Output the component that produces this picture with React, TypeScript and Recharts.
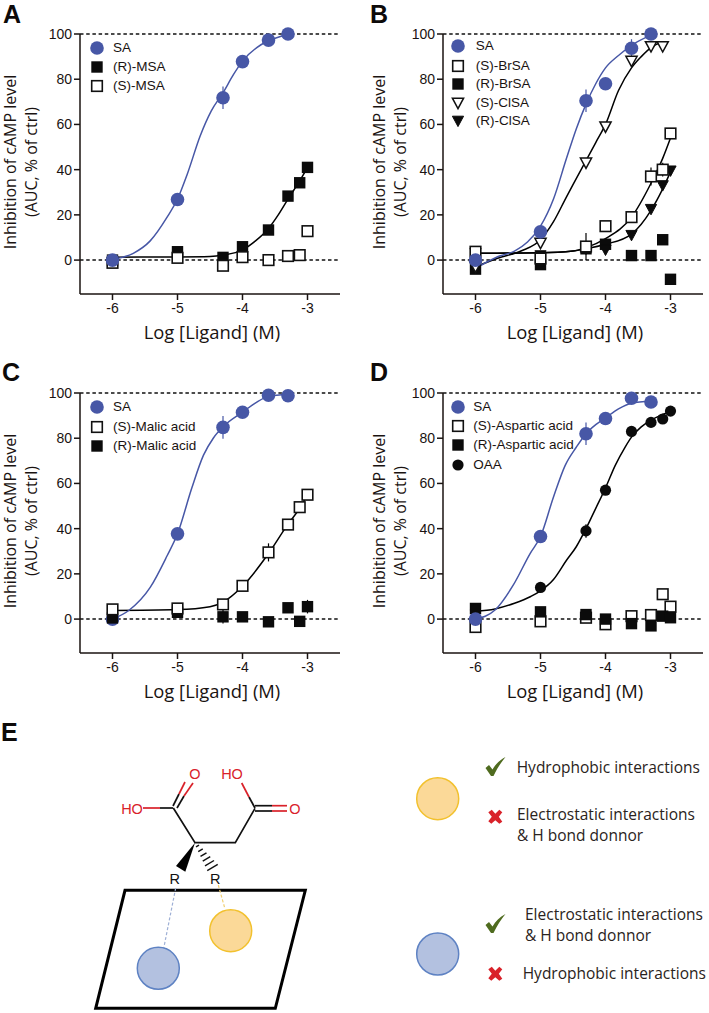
import React from 'react';
import { ComposedChart, Line, Scatter, XAxis, YAxis, ReferenceLine, Legend, ErrorBar, Label } from 'recharts';

// doses shared by every panel, log M
const doses = [-6, -5, -4.3, -4, -3.6, -3.3, -3.12, -3];
const xTicks = [-6, -5, -4, -3];
const yTicks = [0, 20, 40, 60, 80, 100];

// panel A
const aSA = [0, 26.8, 71.8, 87.8, 97.3, 100];
const aSAErr = [0, 0, 5, 0, 0, 0];
const aRMSA = [0, 3.7, 1.2, 5.9, 13.3, 28.3, 34.2, 41];
const aSMSA = [-1.2, 1, -2.5, 1.3, 0, 1.8, 2.2, 12.8];
const aSAFitX = [-6, -5.68, -5.42, -5.16, -5, -4.85, -4.65, -4.48, -4.3, -4.14, -4, -3.78, -3.6, -3.3];
const aSAFitY = [0.3, 3, 8.5, 19, 27, 38, 55, 66, 74, 82, 88, 94, 97, 99.8];
const aRFitX = [-6, -5, -4.5, -4.3, -4, -3.8, -3.6, -3.45, -3.3, -3.12, -3];
const aRFitY = [1.3, 1.4, 1.6, 2.2, 4.5, 8.5, 14, 20, 27, 35, 41];

// panel B
const bSA = [0, 12.5, 70.5, 78, 93.7, 100];
const bSAErr = [0, 0, 5, 0, 4, 0];
const bSBr = [3.7, 0.7, 6, 15, 19, 37, 40, 56];
const bSBrErr = [0, 0, 6, 0, 0, 4, 3, 0];
const bRBr = [-4, -2, 5, 7, 2, 2, 9, -8.5];
const bSCl = [-3, 7.5, 43, 59, 88, 94.5, 94.5];
const bRCl = [3, 2, 5, 4.5, 11, 22.5, 33, 39.5];
const bSAFitX = [-6, -5.66, -5.4, -5.2, -5, -4.8, -4.6, -4.45, -4.3, -4.15, -4, -3.8, -3.6, -3.3];
const bSAFitY = [-3.7, 1.5, 4, 8, 15, 27, 45, 58, 69, 78, 85, 90.5, 95, 99.5];
const bSClFitX = [-6, -5.66, -5.3, -5, -4.8, -4.6, -4.45, -4.3, -4.15, -4, -3.8, -3.6, -3.45, -3.3, -3.12];
const bSClFitY = [-3, 0.8, 4, 9, 17, 28, 36, 44, 52, 60, 75, 85, 90, 94, 96.5];
const bSBrFitX = [-6, -5, -4.5, -4.3, -4, -3.6, -3.3, -3.12, -3];
const bSBrFitY = [3, 3.2, 4, 5.5, 9.5, 19, 34, 45, 54];
const bRClFitX = [-6, -5, -4.5, -4.3, -4, -3.6, -3.3, -3.12, -3];
const bRClFitY = [3, 3.2, 4, 5, 7, 11.5, 22, 31.5, 39];

// panel C
const cSA = [0, 37.7, 84.8, 91.5, 99, 98.8];
const cSAErr = [0, 0, 5, 0, 0, 0];
const cSMalic = [4.3, 4.7, 6.5, 14.7, 29.5, 41.8, 49.5, 55];
const cSMalicErr = [0, 0, 0, 0, 4, 0, 0, 0];
const cRMalic = [0.5, 3, 1, 1, -1.2, 5, -1, 5.5];
const cRMalicErr = [0, 0, 3, 0, 0, 0, 0, 3];
const cSAFitX = [-6, -5.75, -5.42, -5.16, -5, -4.78, -4.6, -4.45, -4.3, -4, -3.78, -3.6, -3.3];
const cSAFitY = [0, 3.8, 14, 28, 37.7, 58, 72.5, 80, 85, 91.5, 96, 98.5, 99.5];
const cSFitX = [-6, -5, -4.5, -4.3, -4, -3.6, -3.3, -3.12, -3];
const cSFitY = [3.8, 4.2, 5.5, 7.5, 14.5, 29, 42, 49, 55];

// panel D
const dSA = [0, 36.5, 82, 88.7, 97.7, 96];
const dSAErr = [0, 0, 5, 0, 0, 0];
const dSAsp = [-3.5, -1, 0.6, -2.3, 1.3, 1.8, 11, 5.5];
const dRAsp = [4.7, 3.2, 2, 0, -2, -3, 1.3, 0.6];
const dOAA = [4, 14, 39, 57, 83, 87, 88.5, 92];
const dOAAErr = [0, 0, 3, 0, 0, 0, 0, 0];
const dSAFitX = [-6, -5.7, -5.42, -5.16, -5, -4.8, -4.62, -4.45, -4.3, -4.15, -4, -3.8, -3.6, -3.3];
const dSAFitY = [0, 4, 15, 29, 36.5, 54, 68, 76, 82, 86, 89, 93, 95.5, 96.5];
const dOAAFitX = [-6, -5.7, -5.4, -5.15, -5, -4.8, -4.6, -4.45, -4.3, -4.15, -4, -3.85, -3.7, -3.6, -3.45, -3.3, -3.12, -3];
const dOAAFitY = [3.5, 4.5, 7, 10, 12.5, 17.5, 26, 32, 40, 49, 58, 68, 76, 80.5, 85, 88, 90.5, 92];

const BLUE = '#4757a6';
const INK = '#1a1311';
const TICK_FONT = '"Liberation Sans", Arial, sans-serif';
const TITLE_FONT = '"Open Sans", sans-serif';

type MarkerKind = 'circle' | 'blueCircle' | 'blackSquare' | 'whiteSquare' | 'whiteTri' | 'blackTri';

function Marker({ kind, cx, cy }: { kind: MarkerKind; cx: number; cy: number }) {
  if (kind === 'blueCircle') return <circle cx={cx} cy={cy} r={6.8} fill={BLUE} />;
  if (kind === 'circle') return <circle cx={cx} cy={cy} r={5.6} fill="#0b0b0b" />;
  if (kind === 'blackSquare') return <rect x={cx - 5.7} y={cy - 5.7} width={11.4} height={11.4} fill="#0b0b0b" />;
  if (kind === 'whiteSquare')
    return <rect x={cx - 5.3} y={cy - 5.3} width={10.6} height={10.6} fill="#fff" stroke="#111" strokeWidth={1.6} />;
  const tri = `${cx - 5.6},${cy - 4.8} ${cx + 5.6},${cy - 4.8} ${cx},${cy + 5.6}`;
  if (kind === 'blackTri') return <polygon points={tri} fill="#0b0b0b" stroke="#0b0b0b" />;
  return <polygon points={tri} fill="#fff" stroke="#111" strokeWidth={1.5} />;
}

function pts(values: number[], errs?: number[], xs: number[] = doses) {
  return values.map((y, i) => ({ x: xs[i], y, err: errs ? errs[i] : 0 }));
}
function fit(xs: number[], ys: number[]) {
  return xs.map((x, i) => ({ x, y: ys[i] }));
}

interface SeriesDef {
  name: string;
  kind: MarkerKind;
  values: number[];
  errs?: number[];
  z: number;
}
interface PanelDef {
  left: number;
  top: number;
  labelX: number;
  legendX: number;
  textX: number;
  rows: number[];
  fits: { xs: number[]; ys: number[]; color: string }[];
  series: SeriesDef[];
}

const panels: PanelDef[] = [
  {
    left: 0,
    top: 0,
    labelX: 10,
    legendX: 97,
    textX: 113,
    rows: [48, 67, 86],
    fits: [
      { xs: aRFitX, ys: aRFitY, color: '#000' },
      { xs: aSAFitX, ys: aSAFitY, color: BLUE },
    ],
    series: [
      { name: 'SA', kind: 'blueCircle', values: aSA, errs: aSAErr, z: 3 },
      { name: '(R)-MSA', kind: 'blackSquare', values: aRMSA, z: 1 },
      { name: '(S)-MSA', kind: 'whiteSquare', values: aSMSA, z: 2 },
    ],
  },
  {
    left: 362.7,
    top: 0,
    labelX: 16,
    legendX: 95.6,
    textX: 113,
    rows: [46, 65.5, 84, 103, 120.5],
    fits: [
      { xs: bSBrFitX, ys: bSBrFitY, color: '#000' },
      { xs: bRClFitX, ys: bRClFitY, color: '#000' },
      { xs: bSClFitX, ys: bSClFitY, color: '#000' },
      { xs: bSAFitX, ys: bSAFitY, color: BLUE },
    ],
    series: [
      { name: 'SA', kind: 'blueCircle', values: bSA, errs: bSAErr, z: 5 },
      { name: '(S)-BrSA', kind: 'whiteSquare', values: bSBr, errs: bSBrErr, z: 4 },
      { name: '(R)-BrSA', kind: 'blackSquare', values: bRBr, z: 1 },
      { name: '(S)-ClSA', kind: 'whiteTri', values: bSCl, z: 3 },
      { name: '(R)-ClSA', kind: 'blackTri', values: bRCl, z: 2 },
    ],
  },
  {
    left: 0,
    top: 359.3,
    labelX: 10,
    legendX: 97,
    textX: 113,
    rows: [48, 67.4, 86.4],
    fits: [
      { xs: cSFitX, ys: cSFitY, color: '#000' },
      { xs: cSAFitX, ys: cSAFitY, color: BLUE },
    ],
    series: [
      { name: 'SA', kind: 'blueCircle', values: cSA, errs: cSAErr, z: 1 },
      { name: '(S)-Malic acid', kind: 'whiteSquare', values: cSMalic, errs: cSMalicErr, z: 3 },
      { name: '(R)-Malic acid', kind: 'blackSquare', values: cRMalic, errs: cRMalicErr, z: 2 },
    ],
  },
  {
    left: 362.7,
    top: 359.3,
    labelX: 16,
    legendX: 95,
    textX: 110.6,
    rows: [48, 67, 86, 106],
    fits: [
      { xs: dOAAFitX, ys: dOAAFitY, color: '#000' },
      { xs: dSAFitX, ys: dSAFitY, color: BLUE },
    ],
    series: [
      { name: 'SA', kind: 'blueCircle', values: dSA, errs: dSAErr, z: 4 },
      { name: '(S)-Aspartic acid', kind: 'whiteSquare', values: dSAsp, z: 1 },
      { name: '(R)-Aspartic acid', kind: 'blackSquare', values: dRAsp, z: 2 },
      { name: 'OAA', kind: 'circle', values: dOAA, errs: dOAAErr, z: 3 },
    ],
  },
];

const legendContent = (p: PanelDef) => () => (
  <div style={{ position: 'relative', width: 1, height: 1 }}>
    {p.series.map((s, i) => (
      <div key={s.name}>
        <svg width={18} height={18} style={{ position: 'absolute', left: p.legendX - 9, top: p.rows[i] - 9 }}>
          <Marker kind={s.kind} cx={9} cy={9} />
        </svg>
        <span
          style={{
            position: 'absolute',
            left: p.textX,
            top: p.rows[i] - 8,
            fontFamily: TICK_FONT,
            fontSize: 13.5,
            lineHeight: '16px',
            color: INK,
            whiteSpace: 'nowrap',
          }}
        >
          {s.name}
        </span>
      </div>
    ))}
  </div>
);

function Panel({ p }: { p: PanelDef }) {
  const tickStyle = { fontSize: 14, fontFamily: TICK_FONT, fill: INK };
  const axisLine = { stroke: INK, strokeWidth: 1.5 };
  const drawOrder = [...p.series].sort((a, b) => a.z - b.z);
  return (
    <div style={{ position: 'absolute', left: p.left, top: p.top }}>
      <ComposedChart width={355} height={345} margin={{ top: 34, right: 15, bottom: 0, left: 0 }}>
        <XAxis
          type="number"
          dataKey="x"
          domain={[-6.5, -2.5]}
          ticks={xTicks}
          height={51}
          tick={tickStyle}
          tickSize={6}
          tickMargin={3}
          axisLine={axisLine}
          tickLine={axisLine}
        >
          <Label
            value="Log [Ligand] (M)"
            content={({ value }: any) => (
              <text x={212} y={339} textAnchor="middle" fontFamily={TITLE_FONT} fontSize={18.4} fill={INK}>
                {value}
              </text>
            )}
          />
        </XAxis>
        <YAxis
          type="number"
          dataKey="y"
          domain={[-15, 100]}
          ticks={yTicks}
          width={80}
          tick={tickStyle}
          tickSize={6}
          tickMargin={2}
          axisLine={axisLine}
          tickLine={axisLine}
        >
          <Label
            content={() => (
              <g fontFamily={TITLE_FONT} fontSize={16} fill={INK} textAnchor="middle">
                <text transform={`translate(${p.labelX + 5.5},162) rotate(-90)`}>Inhibition of cAMP level</text>
                <text transform={`translate(${p.labelX + 26.5},162) rotate(-90)`}>(AUC, % of ctrl)</text>
              </g>
            )}
          />
        </YAxis>
        <ReferenceLine y={100} stroke="#111" strokeWidth={1.5} strokeDasharray="3.5 2.7" />
        <ReferenceLine y={0} stroke="#111" strokeWidth={1.5} strokeDasharray="3.5 2.7" />
        {p.fits.map((f, i) => (
          <Line
            key={i}
            data={fit(f.xs, f.ys)}
            dataKey="y"
            type="monotone"
            stroke={f.color}
            strokeWidth={1.5}
            dot={false}
            activeDot={false}
            legendType="none"
            isAnimationActive={false}
          />
        ))}
        {drawOrder.map((s) => (
          <Scatter
            key={s.name}
            name={s.name}
            data={pts(s.values, s.errs)}
            dataKey="y"
            isAnimationActive={false}
            shape={(props: any) => <Marker kind={s.kind} cx={props.cx} cy={props.cy} />}
          >
            {s.errs && (
              <ErrorBar
                dataKey="err"
                direction="y"
                width={0}
                stroke={s.kind === 'blueCircle' ? BLUE : '#000'}
                strokeWidth={1.2}
                isAnimationActive={false}
              />
            )}
          </Scatter>
        ))}
        <Legend
          layout="vertical"
          align="center"
          verticalAlign="middle"
          content={legendContent(p)}
          wrapperStyle={{ position: 'absolute', left: 0, top: 0, width: 1, height: 1 }}
        />
      </ComposedChart>
    </div>
  );
}

const LETTER = { fontFamily: TICK_FONT, fontWeight: 700, fontSize: 25, fill: '#0d0a09' };
const RED = '#d9222a';
const NOTE = { fontFamily: TITLE_FONT, fontSize: 15.5, fill: '#2a2320' };

function Check({ x, y }: { x: number; y: number }) {
  return (
    <path
      transform={`translate(${x},${y})`}
      d="M0 11 L3.5 8 L7 12.5 C10 7.5 14 3 20 0 C15.5 5.5 11.5 11.5 8 19 L5.5 19 Z"
      fill="#4f6b1f"
    />
  );
}
function Cross({ x, y }: { x: number; y: number }) {
  return (
    <path
      transform={`translate(${x},${y})`}
      d="M-7 -4.5 L-3.5 -7 L0 -3 L4 -7 L7 -4.5 L3.5 0 L7 5 L4 7 L0 3.5 L-4 7 L-7 4.5 L-3.5 0 Z"
      fill={RED}
    />
  );
}

// panel E and the panel letters: a drawing, not data
function Overlay() {
  const bond = { stroke: '#111', strokeWidth: 1.7, fill: 'none' };
  const redBond = { stroke: RED, strokeWidth: 1.7, fill: 'none' };
  const atom = { fontFamily: TICK_FONT, fontSize: 14.5, fill: RED, textAnchor: 'middle' as const };
  const hash = [0, 1, 2, 3, 4, 5];
  return (
    <svg width={709} height={1013} style={{ position: 'absolute', left: 0, top: 0 }}>
      <text x={3} y={23} {...LETTER}>A</text>
      <text x={370} y={23} {...LETTER}>B</text>
      <text x={2} y={381} {...LETTER}>C</text>
      <text x={370} y={381} {...LETTER}>D</text>
      <text x={1} y={741} {...LETTER}>E</text>

      <line x1={143} y1={808} x2={160} y2={808} {...redBond} />
      <line x1={160} y1={808} x2={173} y2={808} {...bond} />
      <line x1={173} y1={806} x2={179} y2={794} {...bond} />
      <line x1={179} y1={794} x2={185} y2={782} {...redBond} />
      <line x1={177} y1={808} x2={184} y2={796} {...bond} />
      <line x1={184} y1={796} x2={193} y2={783} {...redBond} />
      <polyline points="173.3,808 195,842.7 235.3,842.7 255,808.3" {...bond} />
      <line x1={255} y1={805.7} x2={272} y2={805.7} {...bond} />
      <line x1={272} y1={805.7} x2={287} y2={805.7} {...redBond} />
      <line x1={255} y1={811} x2={272} y2={811} {...bond} />
      <line x1={272} y1={811} x2={287} y2={811} {...redBond} />
      <line x1={255} y1={808} x2={249} y2={797} {...bond} />
      <line x1={249} y1={797} x2={241.7} y2={783} {...redBond} />
      <polygon points="195,842.7 176,866 185.3,871.7" fill="#000" />
      {hash.map((i) => {
        const cx = 197.5 + i * 3;
        const cy = 846 + i * 4.3;
        const half = 1.5 + i * 0.75;
        return <line key={i} x1={cx - half} y1={cy + half * 0.6} x2={cx + half} y2={cy - half * 0.6} stroke="#111" strokeWidth={1.4} />;
      })}
      <text x={132} y={814} {...atom}>HO</text>
      <text x={195} y={779} {...atom}>O</text>
      <text x={232} y={779} {...atom}>HO</text>
      <text x={295} y={814} {...atom}>O</text>
      <text x={174.7} y={884} {...atom} fill="#111">R</text>
      <text x={215.3} y={884} {...atom} fill="#111">R</text>

      <polygon points="125,890.3 305.3,890.3 275.3,1008.3 95.7,1008.3" fill="#fff" stroke="#000" strokeWidth={3} />
      <line x1={175.7} y1={888} x2={160} y2={967} stroke="#9fb0d6" strokeWidth={1.2} strokeDasharray="3 2" />
      <line x1={218.3} y1={885} x2={225} y2={909} stroke="#f2cf72" strokeWidth={1.2} strokeDasharray="3 2" />
      <circle cx={230.7} cy={930.7} r={21} fill="#fbd998" stroke="#f2c12e" strokeWidth={1.5} />
      <circle cx={158.3} cy={968.3} r={21} fill="#b3c1e0" stroke="#5e82c3" strokeWidth={1.5} />

      <circle cx={437.7} cy={798.7} r={21} fill="#fbd998" stroke="#f2c12e" strokeWidth={1.5} />
      <circle cx={437.7} cy={954} r={21} fill="#b3c1e0" stroke="#5e82c3" strokeWidth={1.5} />
      <Check x={485.5} y={757} />
      <Cross x={495.3} y={816.7} />
      <Check x={485.5} y={914} />
      <Cross x={495.3} y={973.7} />
      <text x={516.7} y={772.5} {...NOTE}>Hydrophobic interactions</text>
      <text x={517} y={820} {...NOTE}>Electrostatic interactions</text>
      <text x={517} y={841} {...NOTE}>&amp; H bond donnor</text>
      <text x={525} y={920} {...NOTE}>Electrostatic interactions</text>
      <text x={525} y={940.7} {...NOTE}>&amp; H bond donnor</text>
      <text x={522.7} y={979.3} {...NOTE}>Hydrophobic interactions</text>
    </svg>
  );
}

export default function App() {
  return (
    <div style={{ position: 'absolute', left: 0, top: 0, width: 709, height: 1013, background: '#fff', overflow: 'hidden' }}>
      {panels.map((p, i) => (
        <Panel key={i} p={p} />
      ))}
      <Overlay />
    </div>
  );
}
